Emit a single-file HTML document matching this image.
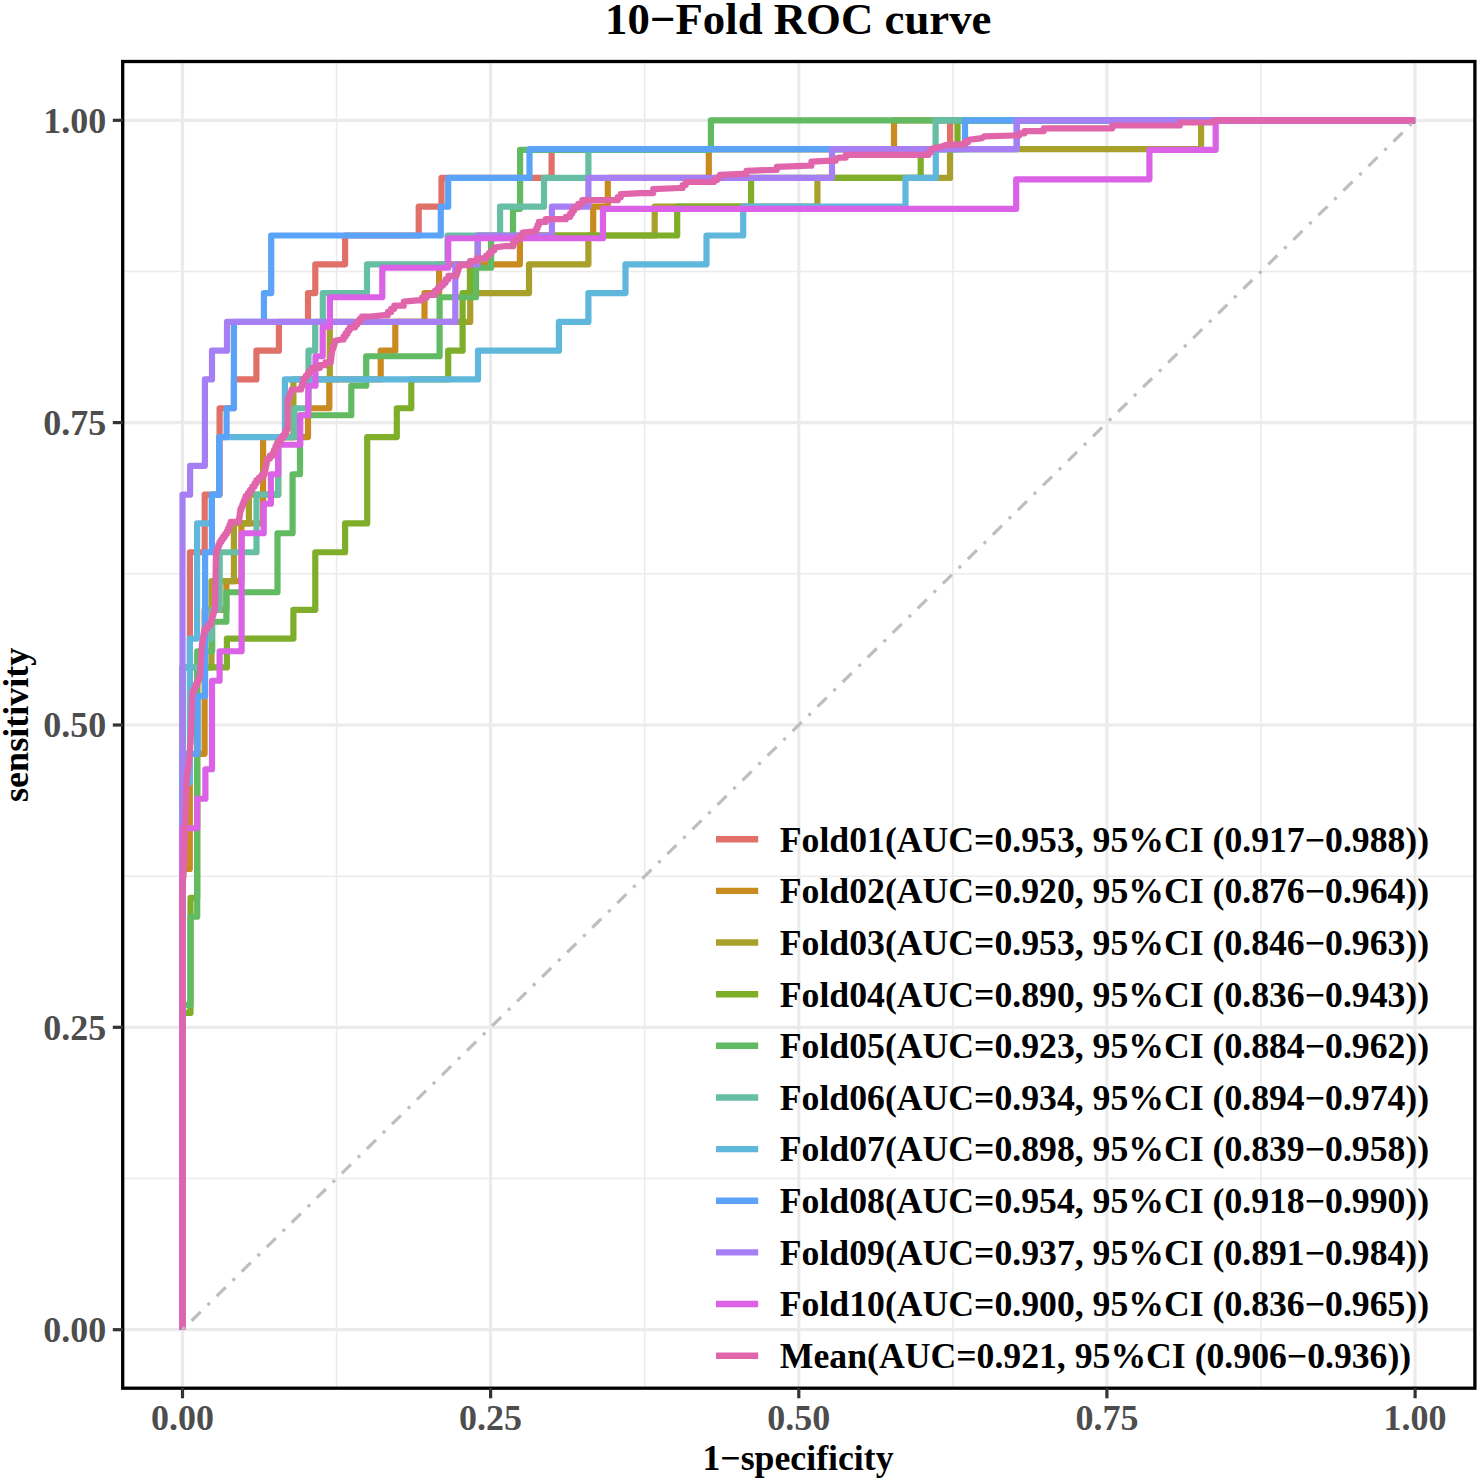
<!DOCTYPE html><html><head><meta charset="utf-8"><style>html,body{margin:0;padding:0;background:#fff;}svg{display:block;}text{font-family:"Liberation Serif",serif;font-weight:bold;}</style></head><body>
<svg width="1480" height="1480" viewBox="0 0 1480 1480">
<rect x="0" y="0" width="1480" height="1480" fill="#fff"/>
<line x1="336.6" y1="61.5" x2="336.6" y2="1388.2" stroke="#EBEBEB" stroke-width="1.6"/>
<line x1="122.7" y1="1178.5" x2="1474.9" y2="1178.5" stroke="#EBEBEB" stroke-width="1.6"/>
<line x1="644.7" y1="61.5" x2="644.7" y2="1388.2" stroke="#EBEBEB" stroke-width="1.6"/>
<line x1="122.7" y1="876.2" x2="1474.9" y2="876.2" stroke="#EBEBEB" stroke-width="1.6"/>
<line x1="952.9" y1="61.5" x2="952.9" y2="1388.2" stroke="#EBEBEB" stroke-width="1.6"/>
<line x1="122.7" y1="573.8" x2="1474.9" y2="573.8" stroke="#EBEBEB" stroke-width="1.6"/>
<line x1="1261.0" y1="61.5" x2="1261.0" y2="1388.2" stroke="#EBEBEB" stroke-width="1.6"/>
<line x1="122.7" y1="271.5" x2="1474.9" y2="271.5" stroke="#EBEBEB" stroke-width="1.6"/>
<line x1="182.5" y1="61.5" x2="182.5" y2="1388.2" stroke="#EBEBEB" stroke-width="3.2"/>
<line x1="122.7" y1="1329.7" x2="1474.9" y2="1329.7" stroke="#EBEBEB" stroke-width="3.2"/>
<line x1="490.6" y1="61.5" x2="490.6" y2="1388.2" stroke="#EBEBEB" stroke-width="3.2"/>
<line x1="122.7" y1="1027.3" x2="1474.9" y2="1027.3" stroke="#EBEBEB" stroke-width="3.2"/>
<line x1="798.8" y1="61.5" x2="798.8" y2="1388.2" stroke="#EBEBEB" stroke-width="3.2"/>
<line x1="122.7" y1="725.0" x2="1474.9" y2="725.0" stroke="#EBEBEB" stroke-width="3.2"/>
<line x1="1106.9" y1="61.5" x2="1106.9" y2="1388.2" stroke="#EBEBEB" stroke-width="3.2"/>
<line x1="122.7" y1="422.6" x2="1474.9" y2="422.6" stroke="#EBEBEB" stroke-width="3.2"/>
<line x1="1415.1" y1="61.5" x2="1415.1" y2="1388.2" stroke="#EBEBEB" stroke-width="3.2"/>
<line x1="122.7" y1="120.3" x2="1474.9" y2="120.3" stroke="#EBEBEB" stroke-width="3.2"/>
<path d="M182.50,1329.70 L182.50,667.41 L189.90,667.41 L189.90,552.24 L204.70,552.24 L204.70,494.64 L219.60,494.64 L219.60,408.26 L233.90,408.26 L233.90,379.47 L256.40,379.47 L256.40,350.67 L278.90,350.67 L278.90,321.88 L308.00,321.88 L308.00,293.08 L315.30,293.08 L315.30,264.29 L345.10,264.29 L345.10,235.49 L418.70,235.49 L418.70,206.69 L441.50,206.69 L441.50,177.90 L551.60,177.90 L551.60,149.11 L950.10,149.11 L950.10,120.31 L1415.10,120.31" fill="none" stroke="#E07068" stroke-width="6.2" stroke-linejoin="round" stroke-linecap="butt"/>
<path d="M182.50,1329.70 L182.50,868.98 L189.80,868.98 L189.80,753.80 L204.60,753.80 L204.60,609.83 L226.40,609.83 L226.40,581.03 L241.40,581.03 L241.40,523.44 L263.10,523.44 L263.10,437.05 L308.00,437.05 L308.00,408.26 L329.30,408.26 L329.30,379.47 L380.70,379.47 L380.70,350.67 L395.30,350.67 L395.30,321.88 L424.50,321.88 L424.50,293.08 L439.10,293.08 L439.10,264.29 L519.90,264.29 L519.90,235.49 L593.20,235.49 L593.20,206.69 L607.80,206.69 L607.80,177.90 L708.80,177.90 L708.80,149.11 L894.00,149.11 L894.00,120.31 L1415.10,120.31" fill="none" stroke="#C98A20" stroke-width="6.2" stroke-linejoin="round" stroke-linecap="butt"/>
<path d="M182.50,1329.70 L182.50,667.41 L211.50,667.41 L211.50,581.03 L233.90,581.03 L233.90,523.44 L248.90,523.44 L248.90,494.64 L278.20,494.64 L278.20,437.05 L293.40,437.05 L293.40,379.47 L329.80,379.47 L329.80,321.88 L470.20,321.88 L470.20,293.08 L529.00,293.08 L529.00,264.29 L588.40,264.29 L588.40,235.49 L654.70,235.49 L654.70,206.69 L817.40,206.69 L817.40,177.90 L950.00,177.90 L950.00,149.11 L1201.10,149.11 L1201.10,120.31 L1415.10,120.31" fill="none" stroke="#A8A02A" stroke-width="6.2" stroke-linejoin="round" stroke-linecap="butt"/>
<path d="M182.50,1329.70 L182.50,1012.96 L190.50,1012.96 L190.50,897.78 L197.20,897.78 L197.20,667.41 L226.90,667.41 L226.90,638.62 L293.40,638.62 L293.40,609.83 L315.30,609.83 L315.30,552.24 L345.10,552.24 L345.10,523.44 L367.20,523.44 L367.20,437.05 L396.80,437.05 L396.80,408.26 L411.30,408.26 L411.30,379.47 L448.20,379.47 L448.20,350.67 L462.60,350.67 L462.60,293.08 L469.90,293.08 L469.90,264.29 L477.70,264.29 L477.70,235.49 L677.20,235.49 L677.20,206.69 L751.10,206.69 L751.10,177.90 L920.70,177.90 L920.70,149.11 L957.50,149.11 L957.50,120.31 L1415.10,120.31" fill="none" stroke="#7EAE2A" stroke-width="6.2" stroke-linejoin="round" stroke-linecap="butt"/>
<path d="M182.50,1329.70 L182.50,1005.22 L190.50,1005.22 L190.50,916.73 L197.20,916.73 L197.20,651.25 L212.20,651.25 L212.20,621.75 L226.40,621.75 L226.40,592.25 L277.50,592.25 L277.50,533.25 L292.60,533.25 L292.60,474.26 L300.00,474.26 L300.00,415.26 L351.30,415.26 L351.30,385.76 L366.20,385.76 L366.20,356.27 L439.60,356.27 L439.60,297.27 L476.00,297.27 L476.00,267.77 L491.10,267.77 L491.10,238.27 L513.00,238.27 L513.00,208.78 L520.10,208.78 L520.10,149.78 L710.90,149.78 L710.90,120.28 L1415.10,120.28" fill="none" stroke="#62BA63" stroke-width="6.2" stroke-linejoin="round" stroke-linecap="butt"/>
<path d="M182.50,1329.70 L182.50,667.41 L205.10,667.41 L205.10,638.62 L211.70,638.62 L211.70,609.83 L219.70,609.83 L219.70,552.24 L256.50,552.24 L256.50,494.64 L278.20,494.64 L278.20,437.05 L294.40,437.05 L294.40,408.26 L308.50,408.26 L308.50,350.67 L315.20,350.67 L315.20,321.88 L322.80,321.88 L322.80,293.08 L367.00,293.08 L367.00,264.29 L447.50,264.29 L447.50,235.49 L500.10,235.49 L500.10,206.69 L544.00,206.69 L544.00,177.90 L588.40,177.90 L588.40,149.11 L935.60,149.11 L935.60,120.31 L1415.10,120.31" fill="none" stroke="#66BEA4" stroke-width="6.2" stroke-linejoin="round" stroke-linecap="butt"/>
<path d="M182.50,1329.70 L182.50,782.60 L189.90,782.60 L189.90,638.62 L197.10,638.62 L197.10,523.44 L211.80,523.44 L211.80,494.64 L219.20,494.64 L219.20,437.05 L284.90,437.05 L284.90,379.47 L478.00,379.47 L478.00,350.67 L558.90,350.67 L558.90,321.88 L588.40,321.88 L588.40,293.08 L625.50,293.08 L625.50,264.29 L706.50,264.29 L706.50,235.49 L743.20,235.49 L743.20,206.69 L905.50,206.69 L905.50,177.90 L935.80,177.90 L935.80,149.11 L1016.70,149.11 L1016.70,120.31 L1415.10,120.31" fill="none" stroke="#60B7DC" stroke-width="6.2" stroke-linejoin="round" stroke-linecap="butt"/>
<path d="M182.50,1329.70 L182.50,753.80 L197.60,753.80 L197.60,696.21 L205.10,696.21 L205.10,552.24 L211.90,552.24 L211.90,494.64 L219.20,494.64 L219.20,437.05 L226.60,437.05 L226.60,408.26 L233.90,408.26 L233.90,321.88 L263.90,321.88 L263.90,293.08 L271.20,293.08 L271.20,235.49 L440.80,235.49 L440.80,206.69 L448.20,206.69 L448.20,177.90 L529.50,177.90 L529.50,149.11 L965.00,149.11 L965.00,120.31 L1415.10,120.31" fill="none" stroke="#5BA3F8" stroke-width="6.2" stroke-linejoin="round" stroke-linecap="butt"/>
<path d="M182.50,1329.70 L182.50,494.64 L190.10,494.64 L190.10,465.85 L204.90,465.85 L204.90,379.47 L212.00,379.47 L212.00,350.67 L227.00,350.67 L227.00,321.88 L455.30,321.88 L455.30,264.29 L477.80,264.29 L477.80,235.49 L551.90,235.49 L551.90,206.69 L588.40,206.69 L588.40,177.90 L832.00,177.90 L832.00,149.11 L1016.70,149.11 L1016.70,120.31 L1415.10,120.31" fill="none" stroke="#A77FF5" stroke-width="6.2" stroke-linejoin="round" stroke-linecap="butt"/>
<path d="M182.50,1329.70 L182.50,828.23 L197.20,828.23 L197.20,798.74 L205.40,798.74 L205.40,769.24 L212.00,769.24 L212.00,680.74 L219.60,680.74 L219.60,651.25 L241.60,651.25 L241.60,533.25 L263.70,533.25 L263.70,503.76 L270.90,503.76 L270.90,474.26 L278.20,474.26 L278.20,444.76 L300.20,444.76 L300.20,415.26 L308.30,415.26 L308.30,385.76 L315.50,385.76 L315.50,356.27 L322.70,356.27 L322.70,326.77 L329.90,326.77 L329.90,297.27 L382.30,297.27 L382.30,267.77 L448.20,267.77 L448.20,238.27 L603.00,238.27 L603.00,208.78 L1016.20,208.78 L1016.20,179.28 L1149.40,179.28 L1149.40,149.78 L1215.70,149.78 L1215.70,120.28 L1415.10,120.28" fill="none" stroke="#DB62E6" stroke-width="6.2" stroke-linejoin="round" stroke-linecap="butt"/>
<path d="M182.50,1329.70 L182.50,880.00 L183.00,880.00 L183.00,876.50 L183.50,876.50 L183.50,873.00 L183.60,873.00 L183.60,870.14 L183.69,870.14 L183.69,867.28 L183.79,867.28 L183.79,864.43 L183.89,864.43 L183.89,861.57 L183.98,861.57 L183.98,858.71 L184.08,858.71 L184.08,855.85 L184.18,855.85 L184.18,853.00 L184.28,853.00 L184.28,850.14 L184.37,850.14 L184.37,847.28 L184.47,847.28 L184.47,844.42 L184.57,844.42 L184.57,841.57 L184.66,841.57 L184.66,838.71 L184.76,838.71 L184.76,835.85 L184.86,835.85 L184.86,832.99 L184.95,832.99 L184.95,830.14 L185.05,830.14 L185.05,827.28 L185.15,827.28 L185.15,824.42 L185.25,824.42 L185.25,821.56 L185.34,821.56 L185.34,818.71 L185.44,818.71 L185.44,815.85 L185.54,815.85 L185.54,812.99 L185.63,812.99 L185.63,810.13 L185.73,810.13 L185.73,807.28 L185.83,807.28 L185.83,804.42 L185.92,804.42 L185.92,801.56 L186.02,801.56 L186.02,798.70 L186.12,798.70 L186.12,795.85 L186.22,795.85 L186.22,792.99 L186.31,792.99 L186.31,790.13 L186.41,790.13 L186.41,787.27 L186.51,787.27 L186.51,784.42 L186.60,784.42 L186.60,781.56 L186.70,781.56 L186.70,778.70 L187.10,778.70 L187.10,775.58 L187.50,775.58 L187.50,772.47 L187.90,772.47 L187.90,769.35 L188.30,769.35 L188.30,766.23 L188.70,766.23 L188.70,763.12 L189.10,763.12 L189.10,760.00 L189.31,760.00 L189.31,757.29 L189.53,757.29 L189.53,754.57 L189.74,754.57 L189.74,751.86 L189.96,751.86 L189.96,749.14 L190.17,749.14 L190.17,746.43 L190.39,746.43 L190.39,743.71 L190.60,743.71 L190.60,741.00 L190.70,741.00 L190.70,738.11 L190.80,738.11 L190.80,735.22 L190.90,735.22 L190.90,732.34 L191.00,732.34 L191.00,729.45 L191.10,729.45 L191.10,726.56 L191.20,726.56 L191.20,723.67 L191.30,723.67 L191.30,720.78 L191.40,720.78 L191.40,717.89 L191.50,717.89 L191.50,715.01 L191.60,715.01 L191.60,712.12 L191.70,712.12 L191.70,709.23 L191.80,709.23 L191.80,706.34 L191.90,706.34 L191.90,703.45 L192.00,703.45 L192.00,700.56 L192.10,700.56 L192.10,697.68 L192.20,697.68 L192.20,694.79 L192.30,694.79 L192.30,691.90 L193.57,691.90 L193.57,689.20 L194.83,689.20 L194.83,686.50 L196.10,686.50 L196.10,683.80 L197.37,683.80 L197.37,681.10 L198.63,681.10 L198.63,678.40 L199.90,678.40 L199.90,675.70 L200.09,675.70 L200.09,672.75 L200.28,672.75 L200.28,669.79 L200.47,669.79 L200.47,666.84 L200.66,666.84 L200.66,663.88 L200.85,663.88 L200.85,660.93 L201.05,660.93 L201.05,657.97 L201.24,657.97 L201.24,655.02 L201.43,655.02 L201.43,652.06 L201.62,652.06 L201.62,649.11 L201.81,649.11 L201.81,646.15 L202.00,646.15 L202.00,643.20 L202.55,643.20 L202.55,639.98 L203.10,639.98 L203.10,636.75 L203.65,636.75 L203.65,633.52 L204.20,633.52 L204.20,630.30 L206.37,630.30 L206.37,627.40 L208.53,627.40 L208.53,624.50 L210.70,624.50 L210.70,621.60 L211.56,621.60 L211.56,618.58 L212.42,618.58 L212.42,615.56 L213.28,615.56 L213.28,612.54 L214.14,612.54 L214.14,609.52 L215.00,609.52 L215.00,606.50 L215.05,606.50 L215.05,603.61 L215.11,603.61 L215.11,600.72 L215.16,600.72 L215.16,597.83 L215.21,597.83 L215.21,594.94 L215.26,594.94 L215.26,592.05 L215.32,592.05 L215.32,589.16 L215.37,589.16 L215.37,586.27 L215.42,586.27 L215.42,583.38 L215.47,583.38 L215.47,580.49 L215.53,580.49 L215.53,577.61 L215.58,577.61 L215.58,574.72 L215.63,574.72 L215.63,571.83 L215.68,571.83 L215.68,568.94 L215.74,568.94 L215.74,566.05 L215.79,566.05 L215.79,563.16 L215.84,563.16 L215.84,560.27 L215.89,560.27 L215.89,557.38 L215.95,557.38 L215.95,554.49 L216.00,554.49 L216.00,551.60 L217.17,551.60 L217.17,548.40 L218.33,548.40 L218.33,545.20 L219.50,545.20 L219.50,542.00 L221.32,542.00 L221.32,539.35 L223.15,539.35 L223.15,536.70 L224.98,536.70 L224.98,534.05 L226.80,534.05 L226.80,531.40 L228.13,531.40 L228.13,528.23 L229.47,528.23 L229.47,525.07 L230.80,525.07 L230.80,521.90 L238.90,521.90 L238.90,519.20 L239.37,519.20 L239.37,516.03 L239.83,516.03 L239.83,512.87 L240.30,512.87 L240.30,509.70 L241.38,509.70 L241.38,507.00 L242.46,507.00 L242.46,504.30 L243.54,504.30 L243.54,501.60 L244.62,501.60 L244.62,498.90 L245.70,498.90 L245.70,496.20 L247.92,496.20 L247.92,492.98 L250.15,492.98 L250.15,489.75 L252.38,489.75 L252.38,486.52 L254.60,486.52 L254.60,483.30 L256.50,483.30 L256.50,480.00 L259.20,480.00 L259.20,477.30 L261.90,477.30 L261.90,474.60 L264.60,474.60 L264.60,471.90 L265.14,471.90 L265.14,469.20 L265.68,469.20 L265.68,466.50 L266.22,466.50 L266.22,463.80 L266.76,463.80 L266.76,461.10 L267.30,461.10 L267.30,458.40 L270.00,458.40 L270.00,455.70 L272.70,455.70 L272.70,453.00 L274.07,453.00 L274.07,449.83 L275.43,449.83 L275.43,446.67 L276.80,446.67 L276.80,443.50 L278.82,443.50 L278.82,440.80 L280.85,440.80 L280.85,438.10 L282.88,438.10 L282.88,435.40 L284.90,435.40 L284.90,432.70 L286.25,432.70 L286.25,429.35 L287.60,429.35 L287.60,426.00 L287.60,398.90 L288.93,398.90 L288.93,395.77 L290.27,395.77 L290.27,392.63 L291.60,392.63 L291.60,389.50 L301.10,389.50 L301.10,386.80 L302.00,386.80 L302.00,384.07 L302.90,384.07 L302.90,381.33 L303.80,381.33 L303.80,378.60 L305.82,378.60 L305.82,375.90 L307.85,375.90 L307.85,373.20 L309.88,373.20 L309.88,370.50 L311.90,370.50 L311.90,367.80 L320.00,367.80 L320.00,365.10 L325.40,365.10 L325.40,362.40 L330.80,362.40 L330.80,359.70 L331.15,359.70 L331.15,357.00 L331.50,357.00 L331.50,354.30 L331.85,354.30 L331.85,351.60 L332.20,351.60 L332.20,348.90 L333.10,348.90 L333.10,346.20 L334.00,346.20 L334.00,343.50 L334.90,343.50 L334.90,340.80 L341.60,339.50 L343.62,339.50 L343.62,336.45 L345.65,336.45 L345.65,333.40 L347.68,333.40 L347.68,330.35 L349.70,330.35 L349.70,327.30 L355.10,327.30 L355.10,324.60 L357.37,324.60 L357.37,321.90 L359.63,321.90 L359.63,319.20 L361.90,319.20 L361.90,316.50 L370.00,316.50 L384.90,315.10 L388.03,315.10 L388.03,311.97 L391.17,311.97 L391.17,308.83 L394.30,308.83 L394.30,305.70 L403.80,305.70 L403.80,301.60 L417.30,300.30 L422.05,300.30 L422.05,297.60 L426.80,297.60 L426.80,294.90 L434.90,294.90 L434.90,290.80 L437.60,290.80 L437.60,288.10 L440.30,288.10 L440.30,285.40 L443.00,285.40 L443.00,282.70 L445.70,282.70 L445.70,279.30 L448.40,279.30 L448.40,275.90 L456.50,275.90 L456.50,273.20 L457.40,273.20 L457.40,270.50 L458.30,270.50 L458.30,267.80 L459.20,267.80 L459.20,265.10 L470.00,265.10 L470.00,261.10 L476.80,261.10 L476.80,258.40 L486.20,258.40 L486.20,255.70 L488.90,255.70 L488.90,253.00 L491.60,253.00 L491.60,250.30 L494.30,250.30 L494.30,247.60 L503.80,246.20 L513.20,246.20 L513.20,242.20 L515.90,242.20 L515.90,239.50 L518.60,239.50 L518.60,236.80 L522.70,236.80 L522.70,232.70 L534.90,231.40 L536.23,231.40 L536.23,228.23 L537.57,228.23 L537.57,225.07 L538.90,225.07 L538.90,221.90 L545.70,221.90 L545.70,219.20 L565.90,219.20 L565.90,216.80 L568.10,216.80 L570.13,216.80 L570.13,213.63 L572.17,213.63 L572.17,210.47 L574.20,210.47 L574.20,207.30 L578.25,207.30 L578.25,203.75 L582.30,203.75 L582.30,200.20 L614.70,200.20 L617.75,200.20 L617.75,197.15 L620.80,197.15 L620.80,194.10 L641.10,193.10 L653.20,193.10 L653.20,189.10 L679.60,188.00 L682.65,188.00 L682.65,185.00 L685.70,185.00 L685.70,182.00 L714.10,182.00 L714.10,179.90 L717.10,179.90 L717.10,177.40 L720.10,177.40 L720.10,174.90 L742.40,173.90 L746.50,173.90 L746.50,170.80 L774.90,169.80 L776.90,169.80 L776.90,166.80 L809.30,165.70 L811.40,165.70 L811.40,161.70 L831.60,160.70 L835.70,160.70 L835.70,158.70 L839.70,157.60 L845.80,157.60 L845.80,154.80 L926.10,154.80 L928.75,154.80 L928.75,151.75 L931.40,151.75 L931.40,148.70 L940.10,146.90 L945.40,145.10 L961.20,144.30 L964.75,144.30 L964.75,142.10 L968.30,142.10 L968.30,139.90 L982.30,138.10 L984.10,136.40 L1013.90,135.50 L1019.20,135.50 L1019.20,133.30 L1024.50,133.30 L1024.50,131.10 L1043.80,131.10 L1043.80,128.40 L1112.30,128.30 L1112.30,125.50 L1179.80,125.50 L1179.80,122.50 L1214.50,122.50 L1214.50,120.30 L1415.10,120.30" fill="none" stroke="#E065AA" stroke-width="6.2" stroke-linejoin="round" stroke-linecap="butt"/>
<line x1="182.5" y1="1329.7" x2="1415.1" y2="120.29999999999995" stroke="#BEBEBE" stroke-width="3.2" stroke-dasharray="3.189 9.567 12.756 9.567"/>
<rect x="122.7" y="61.5" width="1352.2" height="1326.7" fill="none" stroke="#000" stroke-width="3.3"/>
<line x1="112.8" y1="1329.7" x2="122.7" y2="1329.7" stroke="#333" stroke-width="3.2"/>
<line x1="182.5" y1="1388.2" x2="182.5" y2="1398.3" stroke="#333" stroke-width="3.2"/>
<text x="106.2" y="1342.0" font-size="36" fill="#4D4D4D" text-anchor="end">0.00</text>
<text x="182.5" y="1429.8" font-size="36" fill="#4D4D4D" text-anchor="middle">0.00</text>
<line x1="112.8" y1="1027.3" x2="122.7" y2="1027.3" stroke="#333" stroke-width="3.2"/>
<line x1="490.6" y1="1388.2" x2="490.6" y2="1398.3" stroke="#333" stroke-width="3.2"/>
<text x="106.2" y="1039.6" font-size="36" fill="#4D4D4D" text-anchor="end">0.25</text>
<text x="490.6" y="1429.8" font-size="36" fill="#4D4D4D" text-anchor="middle">0.25</text>
<line x1="112.8" y1="725.0" x2="122.7" y2="725.0" stroke="#333" stroke-width="3.2"/>
<line x1="798.8" y1="1388.2" x2="798.8" y2="1398.3" stroke="#333" stroke-width="3.2"/>
<text x="106.2" y="737.3" font-size="36" fill="#4D4D4D" text-anchor="end">0.50</text>
<text x="798.8" y="1429.8" font-size="36" fill="#4D4D4D" text-anchor="middle">0.50</text>
<line x1="112.8" y1="422.6" x2="122.7" y2="422.6" stroke="#333" stroke-width="3.2"/>
<line x1="1106.9" y1="1388.2" x2="1106.9" y2="1398.3" stroke="#333" stroke-width="3.2"/>
<text x="106.2" y="434.9" font-size="36" fill="#4D4D4D" text-anchor="end">0.75</text>
<text x="1106.9" y="1429.8" font-size="36" fill="#4D4D4D" text-anchor="middle">0.75</text>
<line x1="112.8" y1="120.3" x2="122.7" y2="120.3" stroke="#333" stroke-width="3.2"/>
<line x1="1415.1" y1="1388.2" x2="1415.1" y2="1398.3" stroke="#333" stroke-width="3.2"/>
<text x="106.2" y="132.6" font-size="36" fill="#4D4D4D" text-anchor="end">1.00</text>
<text x="1415.1" y="1429.8" font-size="36" fill="#4D4D4D" text-anchor="middle">1.00</text>
<text x="798.3" y="34" font-size="44.8" fill="#000" text-anchor="middle">10−Fold ROC curve</text>
<text x="798" y="1469.9" font-size="35.75" fill="#000" text-anchor="middle">1−specificity</text>
<text transform="translate(28,724.8) rotate(-90)" x="0" y="0" font-size="36.1" fill="#000" text-anchor="middle">sensitivity</text>
<line x1="716" y1="839.2" x2="758.2" y2="839.2" stroke="#E07068" stroke-width="6.4"/>
<text x="779.8" y="851.5" font-size="35.7" fill="#000">Fold01(AUC=0.953, 95%CI (0.917−0.988))</text>
<line x1="716" y1="890.9" x2="758.2" y2="890.9" stroke="#C98A20" stroke-width="6.4"/>
<text x="779.8" y="903.1" font-size="35.7" fill="#000">Fold02(AUC=0.920, 95%CI (0.876−0.964))</text>
<line x1="716" y1="942.5" x2="758.2" y2="942.5" stroke="#A8A02A" stroke-width="6.4"/>
<text x="779.8" y="954.8" font-size="35.7" fill="#000">Fold03(AUC=0.953, 95%CI (0.846−0.963))</text>
<line x1="716" y1="994.2" x2="758.2" y2="994.2" stroke="#7EAE2A" stroke-width="6.4"/>
<text x="779.8" y="1006.5" font-size="35.7" fill="#000">Fold04(AUC=0.890, 95%CI (0.836−0.943))</text>
<line x1="716" y1="1045.8" x2="758.2" y2="1045.8" stroke="#62BA63" stroke-width="6.4"/>
<text x="779.8" y="1058.1" font-size="35.7" fill="#000">Fold05(AUC=0.923, 95%CI (0.884−0.962))</text>
<line x1="716" y1="1097.5" x2="758.2" y2="1097.5" stroke="#66BEA4" stroke-width="6.4"/>
<text x="779.8" y="1109.8" font-size="35.7" fill="#000">Fold06(AUC=0.934, 95%CI (0.894−0.974))</text>
<line x1="716" y1="1149.1" x2="758.2" y2="1149.1" stroke="#60B7DC" stroke-width="6.4"/>
<text x="779.8" y="1161.4" font-size="35.7" fill="#000">Fold07(AUC=0.898, 95%CI (0.839−0.958))</text>
<line x1="716" y1="1200.8" x2="758.2" y2="1200.8" stroke="#5BA3F8" stroke-width="6.4"/>
<text x="779.8" y="1213.0" font-size="35.7" fill="#000">Fold08(AUC=0.954, 95%CI (0.918−0.990))</text>
<line x1="716" y1="1252.4" x2="758.2" y2="1252.4" stroke="#A77FF5" stroke-width="6.4"/>
<text x="779.8" y="1264.7" font-size="35.7" fill="#000">Fold09(AUC=0.937, 95%CI (0.891−0.984))</text>
<line x1="716" y1="1304.0" x2="758.2" y2="1304.0" stroke="#DB62E6" stroke-width="6.4"/>
<text x="779.8" y="1316.3" font-size="35.7" fill="#000">Fold10(AUC=0.900, 95%CI (0.836−0.965))</text>
<line x1="716" y1="1355.7" x2="758.2" y2="1355.7" stroke="#E065AA" stroke-width="6.4"/>
<text x="779.8" y="1368.0" font-size="35.7" fill="#000">Mean(AUC=0.921, 95%CI (0.906−0.936))</text>
</svg></body></html>
